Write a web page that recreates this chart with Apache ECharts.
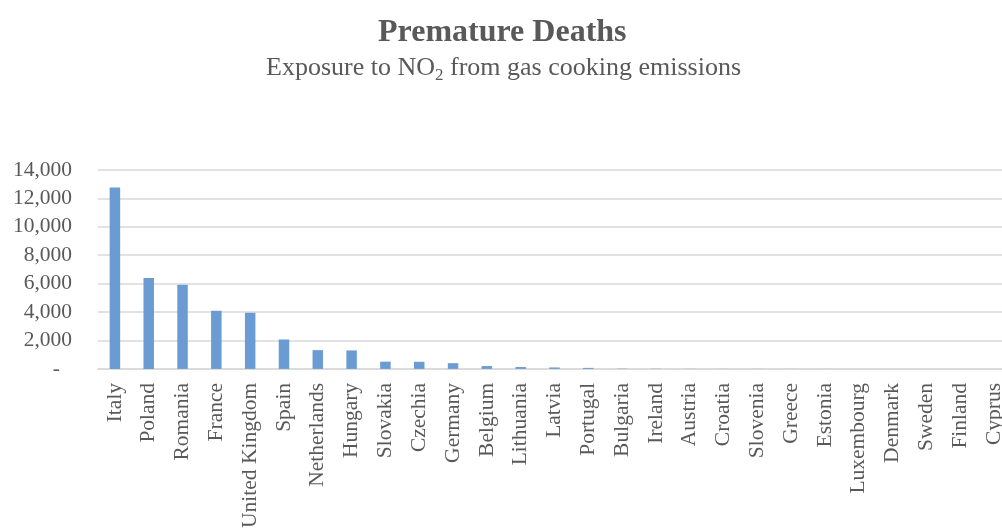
<!DOCTYPE html>
<html><head><meta charset="utf-8">
<script src="https://cdn.jsdelivr.net/npm/echarts@6/dist/echarts.min.js"></script>
<style>html,body{margin:0;padding:0;background:#fff;overflow:hidden}#c{width:1013px;height:531px}</style>
</head><body><div id="c"></div>
<script>
const categories = ["Italy","Poland","Romania","France","United Kingdom","Spain","Netherlands","Hungary","Slovakia","Czechia","Germany","Belgium","Lithuania","Latvia","Portugal","Bulgaria","Ireland","Austria","Croatia","Slovenia","Greece","Estonia","Luxembourg","Denmark","Sweden","Finland","Cyprus"];
const deaths = [12760,6390,5920,4090,3950,2070,1320,1300,510,500,400,200,130,100,70,20,15,8,6,5,4,3,2,2,1,1,1];
const yTicks = [0,2000,4000,6000,8000,10000,12000,14000];
const titleText = "Premature Deaths";
const subPre = "Exposure to NO", subSub = "2", subPost = " from gas cooking emissions";

const FONT = "'Liberation Serif','Times New Roman',serif";
const GREY = "#595959";
const chart = echarts.init(document.getElementById('c'));
chart.setOption({
  animation:false,
  title:[
    {text:titleText,left:378,top:17,padding:0,textStyle:{fontFamily:FONT,fontWeight:'bold',fontSize:32,color:GREY}},
    {text:'{a|'+subPre+'}{s|'+subSub+'}{a|'+subPost+'}',left:266,top:52,padding:0,
     textStyle:{fontFamily:FONT,fontWeight:'normal',fontSize:26,color:GREY,
       rich:{a:{fontFamily:FONT,fontSize:26,color:GREY,lineHeight:32},
             s:{fontFamily:FONT,fontSize:17,color:GREY,lineHeight:32,padding:[16,0,0,0]}}}}
  ],
  grid:{left:98,right:2,top:170,bottom:160,containLabel:false},
  xAxis:{type:'category',data:categories,
    axisLine:{lineStyle:{color:'#d9d9d9',width:1.5}},axisTick:{show:false},
    axisLabel:{rotate:90,interval:0,margin:14,fontFamily:FONT,fontSize:21.5,color:GREY}},
  yAxis:{type:'value',min:yTicks[0],max:yTicks[yTicks.length-1],interval:2000,
    axisLine:{show:false},axisTick:{show:false},
    splitLine:{lineStyle:{color:'#d9d9d9',width:1.5}},
    axisLabel:{margin:26,fontFamily:FONT,fontSize:21.5,color:GREY,
      formatter:v=>v===0?'{d|-}':v.toLocaleString('en-US'),
      rich:{d:{fontFamily:FONT,fontSize:21.5,color:GREY,padding:[0,12,0,0]}}}},
  series:[{type:'bar',data:deaths,barWidth:10.5,itemStyle:{color:'#6a9bd2'}}]
});
</script></body></html>
